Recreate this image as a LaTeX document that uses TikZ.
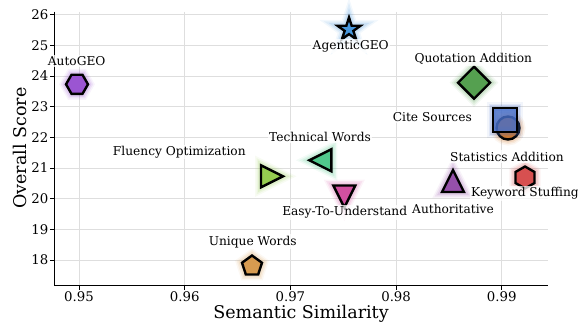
\documentclass[tikz,border=0pt]{standalone}
\usepackage{fontspec}
\setmainfont{DejaVu Serif}
\definecolor{cAuto}{RGB}{155,85,210}
\definecolor{cAgentic}{RGB}{70,150,220}
\definecolor{cQuot}{RGB}{85,160,80}
\definecolor{cCite}{RGB}{70,110,200}
\definecolor{cStat}{RGB}{210,120,40}
\definecolor{cTech}{RGB}{80,200,140}
\definecolor{cFlu}{RGB}{150,205,80}
\definecolor{cEasy}{RGB}{210,80,160}
\definecolor{cAuth}{RGB}{150,80,170}
\definecolor{cKey}{RGB}{215,80,80}
\definecolor{cUniq}{RGB}{215,155,80}
\definecolor{gridc}{RGB}{222,222,222}
\def\hexH{(0:1)--(60:1)--(120:1)--(180:1)--(240:1)--(300:1)--cycle}
\def\hexV{(90:1)--(150:1)--(210:1)--(270:1)--(330:1)--(30:1)--cycle}
\def\pent{(90:1)--(162:1)--(234:1)--(306:1)--(18:1)--cycle}
\def\triU{(0,1)--(-1,-1)--(1,-1)--cycle}
\def\triD{(0,-1)--(-1,1)--(1,1)--cycle}
\def\triL{(-1,0)--(1,1)--(1,-1)--cycle}
\def\triR{(1,0)--(-1,1)--(-1,-1)--cycle}
\def\diam{(0,1)--(1,0)--(0,-1)--(-1,0)--cycle}
\def\sqr{(-1,-1)--(1,-1)--(1,1)--(-1,1)--cycle}
\def\circpath{(0,0) circle (1)}
\def\starpath{(90:1)--(126:0.382)--(162:1)--(198:0.382)--(234:1)--(270:0.382)--(306:1)--(342:0.382)--(18:1)--(54:0.382)--cycle}
\newcommand\glowmark[5][1]{%
  \begin{scope}[shift={(#2)},x=#3pt,y=#3pt]
    \draw[draw=#4,line width=12pt,draw opacity=0.07] #5;
    \draw[draw=#4,line width=9pt,draw opacity=0.11] #5;
    \draw[draw=#4,line width=6pt,draw opacity=0.15] #5;
    \draw[fill=#4,fill opacity=#1,draw=black,line width=2.4pt] #5;
  \end{scope}}
\tikzset{
  lbl/.style={font=\fontsize{12.2}{14}\selectfont, fill=white, fill opacity=0.75, text opacity=1, inner sep=1.5pt},
  ticklbl/.style={font=\fontsize{13.3}{15}\selectfont, inner sep=0pt},
  axlbl/.style={font=\fontsize{17.5}{20}\selectfont, inner sep=0pt},
  gridline/.style={draw=gridc, line width=0.9pt},
  spine/.style={draw=black, line width=1pt},
  tickmark/.style={draw=black, line width=0.8pt}
}
\begin{document}
\begin{tikzpicture}[x=1pt,y=-1pt]
\useasboundingbox (0,0) rectangle (578,326);
% grid
\foreach \xx in {79,184.7,290.4,396.1,501.8} \draw[gridline] (\xx,11.7) -- (\xx,285.7);
\foreach \yy in {14.7,45.4,76.0,106.6,137.3,168.0,198.7,229.3,260} \draw[gridline] (54,\yy) -- (548,\yy);
% spines
\coordinate (o) at (54,285.7);
\coordinate (ytop) at (54,11.7);
\coordinate (xend) at (548,285.7);
\draw[spine] (ytop) -- (o) -- (xend);
% ticks and labels
\foreach \xx/\t in {79/0.95,184.7/0.96,290.4/0.97,396.1/0.98,501.8/0.99} {
  \draw[tickmark] (\xx,285.7) -- (\xx,289.5);
  \node[ticklbl, anchor=north] (xt\t) at (\xx,291.5) {\t};
}
\foreach \yy/\t in {14.7/26,45.4/25,76.0/24,106.6/23,137.3/22,168.0/21,198.7/20,229.3/19,260/18} {
  \draw[tickmark] (54,\yy) -- (50.2,\yy);
  \node[ticklbl, anchor=east] (yt\t) at (48.5,\yy) {\t};
}
\node[axlbl] (xlab) at (301,314) {Semantic Similarity};
\node[axlbl, rotate=90] (ylab) at (20,148) {Overall Score};
% data points
\coordinate (pAuto) at (77,84.3);
\coordinate (pAgent) at (349,29.5);
\coordinate (pQuot) at (474,82.7);
\coordinate (pCite) at (505,120);
\coordinate (pStat) at (508,128);
\coordinate (pTech) at (320.3,160.3);
\coordinate (pFlu) at (272,176.3);
\coordinate (pEasy) at (344.3,196.5);
\coordinate (pAuth) at (453,181);
\coordinate (pKey) at (525,177.5);
\coordinate (pUniq) at (252,266);
\glowmark{pAuto}{11}{cAuto}{\hexH}
\glowmark{pAgent}{12}{cAgentic}{\starpath}
\glowmark{pQuot}{16}{cQuot}{\diam}
\glowmark{pStat}{11.5}{cStat}{\circpath}
\glowmark[0.82]{pCite}{11.8}{cCite}{\sqr}
\glowmark{pTech}{11}{cTech}{\triL}
\glowmark{pFlu}{11}{cFlu}{\triR}
\glowmark{pEasy}{11}{cEasy}{\triD}
\glowmark{pAuth}{11}{cAuth}{\triU}
\glowmark{pKey}{11}{cKey}{\hexV}
\glowmark{pUniq}{10.5}{cUniq}{\pent}
% labels
\node[lbl] (lAuto) at (76.7,61) {AutoGEO};
\node[lbl] (lAgent) at (350.7,46) {AgenticGEO};
\node[lbl] (lQuot) at (473.3,58.7) {Quotation Addition};
\node[lbl] (lCite) at (432.3,117.3) {Cite Sources};
\node[lbl] (lTech) at (320,136.7) {Technical Words};
\node[lbl] (lFlu) at (179.3,152) {Fluency Optimization};
\node[lbl] (lStat) at (507,156.7) {Statistics Addition};
\node[lbl] (lKey) at (525,193.3) {Keyword Stuffing};
\node[lbl] (lAuth) at (453,209.3) {Authoritative};
\node[lbl] (lEasy) at (344.7,212.7) {Easy-To-Understand};
\node[lbl] (lUniq) at (252.7,241.7) {Unique Words};
\end{tikzpicture}
\end{document}
